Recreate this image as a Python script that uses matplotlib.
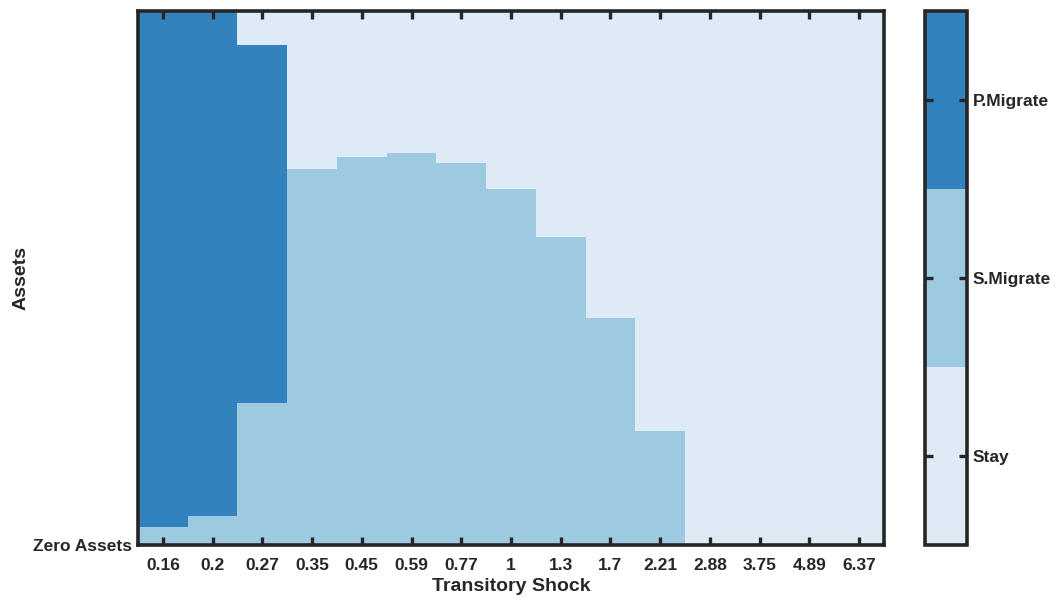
import numpy as np
import matplotlib
matplotlib.use("Agg")
import matplotlib.pyplot as plt
from matplotlib.colors import ListedColormap, BoundaryNorm

plt.rcParams['font.family'] = ['Liberation Sans', 'DejaVu Sans']
plt.rcParams['font.weight'] = 'bold'

# Data
shocks = ['0.16', '0.2', '0.27', '0.35', '0.45', '0.59', '0.77', '1',
          '1.3', '1.7', '2.21', '2.88', '3.75', '4.89', '6.37']
# upper edge (fraction of asset range) of the S.Migrate band at the bottom
smig_upper = [0.034, 0.054, 0.265, 0.705, 0.726, 0.735, 0.715, 0.666,
              0.576, 0.426, 0.214, 0.0, 0.0, 0.0, 0.0]
# upper edge of the P.Migrate band (above S.Migrate band)
pmig_upper = [1.0, 1.0, 0.936, 0.705, 0.726, 0.735, 0.715, 0.666,
              0.576, 0.426, 0.214, 0.0, 0.0, 0.0, 0.0]
categories = ['Stay', 'S.Migrate', 'P.Migrate']
colors = ['#deebf7', '#9ecae1', '#3182bd']

# Build category grid
ncol = len(shocks)
x_edges = np.arange(ncol + 1)
y_edges = np.unique(np.concatenate([[0.0, 1.0], smig_upper, pmig_upper]))
y_mid = 0.5 * (y_edges[:-1] + y_edges[1:])
Z = np.zeros((len(y_mid), ncol))
for j in range(ncol):
    for i, y in enumerate(y_mid):
        if y < smig_upper[j]:
            Z[i, j] = 1
        elif y < pmig_upper[j]:
            Z[i, j] = 2
        else:
            Z[i, j] = 0

fig = plt.figure(figsize=(10.57, 6.01), dpi=100)
ax = fig.add_axes([138/1057, 1 - 545/601, (884-138)/1057, (545-11)/601])
cax = fig.add_axes([925/1057, 1 - 545/601, (967-925)/1057, (545-11)/601])

cmap = ListedColormap(colors)
norm = BoundaryNorm([-0.5, 0.5, 1.5, 2.5], cmap.N)
mesh = ax.pcolormesh(x_edges, y_edges, Z, cmap=cmap, norm=norm, shading='flat')
ax.set_xlim(0, ncol)
ax.set_ylim(0, 1)

tc = '#262626'
ax.set_xticks(np.arange(ncol) + 0.5)
ax.set_xticklabels(shocks, fontsize=12.5, fontweight='bold')
ax.set_yticks([0])
ax.set_yticklabels(['Zero Assets'], fontsize=12.5, fontweight='bold')
ax.tick_params(axis='x', direction='in', length=6, width=2.4, color=tc,
               top=True, bottom=True, pad=9, labelcolor=tc)
ax.tick_params(axis='y', length=0, pad=4, labelcolor=tc)
for s in ax.spines.values():
    s.set_linewidth(2.6)
    s.set_color(tc)
ax.set_xlabel('Transitory Shock', fontsize=14, fontweight='bold', color=tc, labelpad=4)
ax.set_ylabel('Assets', fontsize=14, fontweight='bold', color=tc)
ax.yaxis.set_label_coords(-0.146, 0.5)

cb = fig.colorbar(mesh, cax=cax, ticks=[0, 1, 2])
cb.ax.minorticks_off()
cb.ax.set_yticklabels(categories, fontsize=12.5, fontweight='bold', color=tc)
cb.ax.tick_params(direction='in', length=6, width=2.4, color=tc,
                  left=True, right=True, pad=4)
cb.outline.set_linewidth(2.6)
cb.outline.set_edgecolor(tc)

fig.savefig('out.png', dpi=100)
